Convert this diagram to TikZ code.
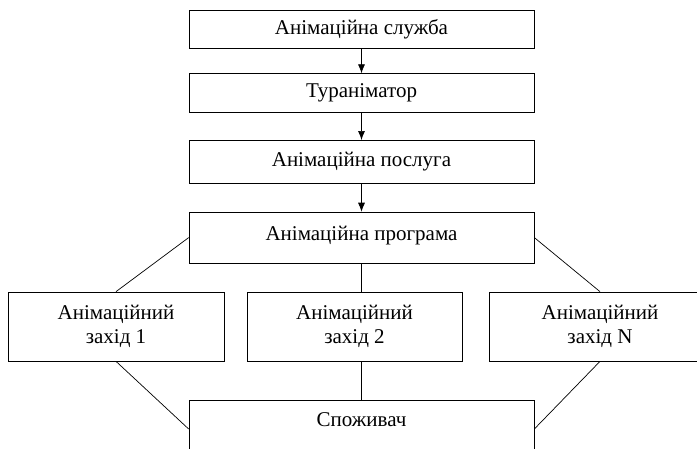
\documentclass[tikz,border=0pt]{standalone}
\usepackage{fontspec}
\setmainfont{Liberation Serif}
\usetikzlibrary{arrows.meta,positioning}

\begin{document}
\begin{tikzpicture}[
		x=1pt, y=1pt,
		line width=0.7pt,
		font=\fontsize{21}{24}\selectfont,
		stage/.style={draw, fill=white, minimum width=345pt, minimum height=40pt},
		event/.style={draw, fill=white, align=center, minimum width=216pt, minimum height=69pt},
		flow/.style={-{Latex[length=9pt, width=7pt]}},
	]
		\useasboundingbox (0,0) rectangle (697,-449);
		\node (service) [stage, minimum height=38pt] at (361.5,-29) {Анімаційна служба};
		\node (turanim) [stage, below=25pt of service, minimum height=39pt] {Тураніматор};
		\node (offer) [stage, below=27pt of turanim, minimum height=43pt] {Анімаційна послуга};
		\node (program) [stage, below=28pt of offer, minimum height=51pt, text height=18pt, text depth=12pt] {Анімаційна програма};
		
		\node (event1) [event] at (116,-326.5) {Анімаційний\\захід 1};
		\node (event2) [event, minimum width=215pt] at (354.5,-326.5) {Анімаційний\\захід 2};
		\node (eventN) [event, minimum width=222pt] at (600,-326.5) {Анімаційний\\захід N};
		
		\node (consumer) [stage, minimum height=56pt, text height=23pt, text depth=27pt] at (361.5,-429) {Споживач};
		
		\draw[flow] (service) -- (turanim);
		\draw[flow] (turanim) -- (offer);
		\draw[flow] (offer) -- (program);
		
		\draw (program.west) -- (event1.north);
		\draw (program.east) -- (eventN.north);
		\draw (program.south) -- (program.south|-event2.north);
		
		\draw (event1.south) -- (consumer.west);
		\draw (eventN.south) -- (consumer.east);
		\draw (consumer.north|-event2.south) -- (consumer.north);
	\end{tikzpicture}
\end{document}
